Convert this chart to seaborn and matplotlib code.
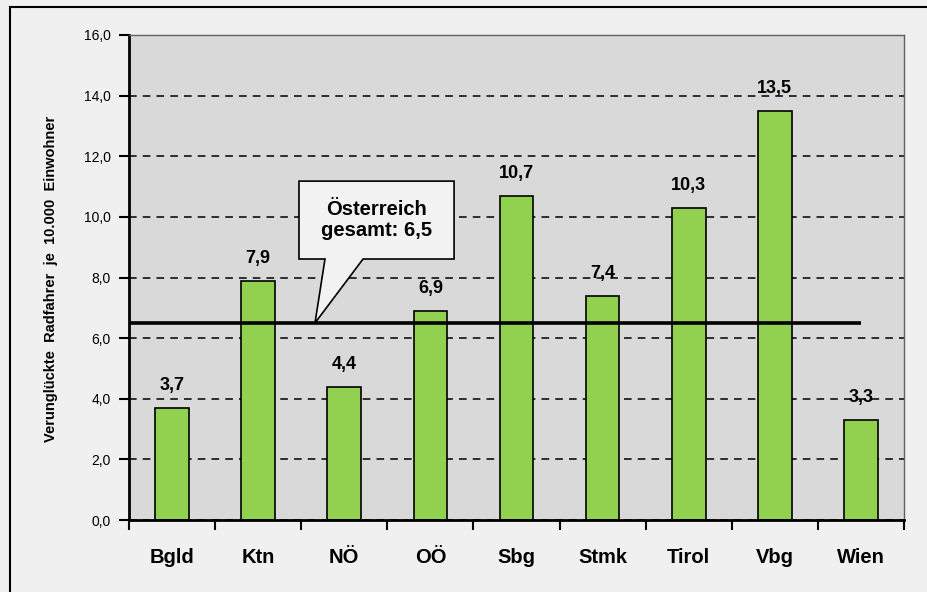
import matplotlib
matplotlib.use("Agg")
import matplotlib.pyplot as plt
import seaborn as sns
import pandas as pd
from matplotlib.patches import Polygon, Rectangle
from matplotlib.ticker import FuncFormatter, MultipleLocator

# data
laender = ["Bgld", "Ktn", "NÖ", "OÖ", "Sbg", "Stmk", "Tirol", "Vbg", "Wien"]
werte = [3.7, 7.9, 4.4, 6.9, 10.7, 7.4, 10.3, 13.5, 3.3]
oesterreich = 6.5

df = pd.DataFrame({"land": laender, "wert": werte})

sns.set_theme(style="white")
plt.rcParams["font.family"] = ["Liberation Sans", "DejaVu Sans"]
plt.rcParams["text.color"] = "black"
plt.rcParams["xtick.color"] = "black"
plt.rcParams["ytick.color"] = "black"

fig = plt.figure(figsize=(9.28, 5.92), dpi=100, facecolor="#F0F0F0")
ax = fig.add_axes([129 / 928, 1 - 520 / 592, 775 / 928, 485 / 592])
ax.set_facecolor("#D9D9D9")

# outer frame of the chart
fig.patches.append(Rectangle((10 / 928, -0.1), 1.2, 1 - 7 / 592 + 0.1,
                             transform=fig.transFigure, fill=False,
                             edgecolor="black", linewidth=1.5))

ax.set_axisbelow(True)
ax.yaxis.grid(True, color="black", linestyle=(0, (5, 4)), linewidth=1.1)
ax.xaxis.grid(False)

sns.barplot(data=df, x="land", y="wert", color="#92D050", saturation=1,
            edgecolor="black", linewidth=1.2, width=0.39, ax=ax, zorder=2)

# Austria average line
ax.hlines(oesterreich, -0.5, len(laender) - 1, color="black", linewidth=2.6, zorder=3)

fmt = lambda v: f"{v:.1f}".replace(".", ",")
for i, v in enumerate(werte):
    ax.text(i, v + 0.45, fmt(v), ha="center", va="bottom",
            fontsize=13, fontweight="bold", color="black", zorder=4)

# callout
callout = Polygon([(1.474, 11.18), (3.275, 11.18), (3.275, 8.61), (2.218, 8.61),
                   (1.66, oesterreich), (1.776, 8.61), (1.474, 8.61)],
                  closed=True, facecolor="#F2F2F2", edgecolor="black",
                  linewidth=1.2, zorder=5)
ax.add_patch(callout)
ax.text(2.37, 9.9, f"Österreich\ngesamt: {fmt(oesterreich)}", ha="center", va="center",
        fontsize=14.5, fontweight="bold", linespacing=1.15, color="black", zorder=6)

ax.set_xlim(-0.5, len(laender) - 0.5)
ax.set_ylim(0, 16)
ax.yaxis.set_major_locator(MultipleLocator(2))
ax.yaxis.set_major_formatter(FuncFormatter(lambda v, p: fmt(v)))
ax.set_xticks([i - 0.5 for i in range(len(laender) + 1)], minor=True)
ax.set_xticks(range(len(laender)))
ax.set_xticklabels(laender, fontsize=14.5, fontweight="bold", color="black")
ax.tick_params(axis="x", which="major", length=0, pad=20, bottom=True)
ax.tick_params(axis="x", which="minor", length=7, width=1.5, direction="out",
               color="black", bottom=True)
ax.tick_params(axis="y", length=7, width=1.5, direction="out", labelsize=10,
               color="black", labelcolor="black", left=True, pad=6)

ax.set_xlabel("")
ax.set_ylabel("")
fig.text(51 / 928, 1 - 279 / 592, "Verunglückte  Radfahrer  je  10.000  Einwohner",
         rotation=90, ha="center", va="center", fontsize=10.5, fontweight="bold",
         color="black")

for s in ["left", "bottom"]:
    ax.spines[s].set_color("black")
    ax.spines[s].set_linewidth(2)
for s in ["top", "right"]:
    ax.spines[s].set_color("#606060")
    ax.spines[s].set_linewidth(1)

fig.savefig("out.png", dpi=100, facecolor=fig.get_facecolor())
